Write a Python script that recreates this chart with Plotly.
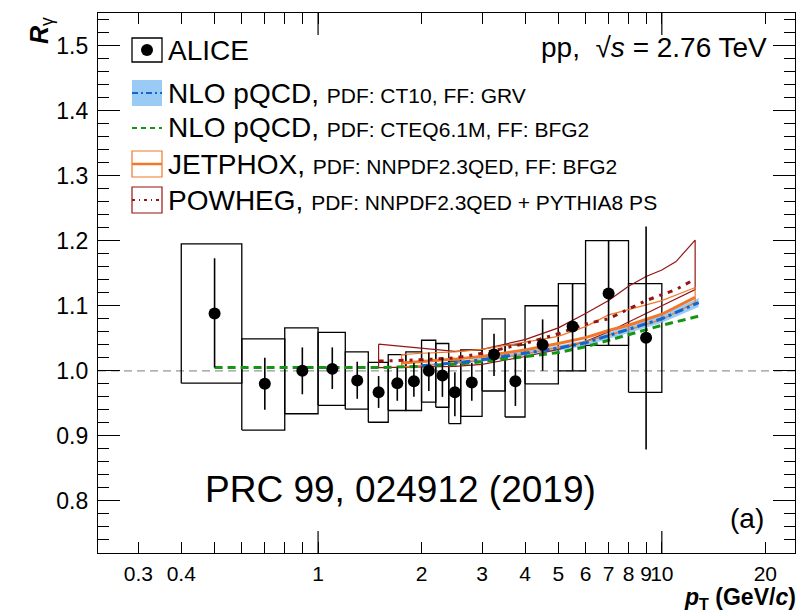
import numpy as np
import plotly.graph_objects as go

# ---------------- data ----------------
bin_lo = [0.4, 0.6, 0.8, 1.0, 1.2, 1.4, 1.6, 1.8, 2.0, 2.2, 2.4, 2.6, 3.0, 3.5, 4.0, 5.0, 6.0, 8.0]
bin_hi = [0.6, 0.8, 1.0, 1.2, 1.4, 1.6, 1.8, 2.0, 2.2, 2.4, 2.6, 3.0, 3.5, 4.0, 5.0, 6.0, 8.0, 10.0]
pt = [0.5, 0.7, 0.9, 1.1, 1.3, 1.5, 1.7, 1.9, 2.1, 2.3, 2.5, 2.8, 3.25, 3.75, 4.5, 5.5, 7.0, 9.0]
r_gamma = [1.088, 0.980, 1.000, 1.003, 0.985, 0.967, 0.981, 0.984, 1.000, 0.993, 0.967, 0.982,
           1.025, 0.984, 1.040, 1.068, 1.119, 1.051]
stat_hi = [1.173, 1.020, 1.036, 1.036, 1.014, 0.992, 1.005, 1.012, 1.028, 1.020, 0.998, 1.012,
           1.057, 1.025, 1.079, 1.134, 1.200, 1.222]
stat_lo = [1.005, 0.940, 0.964, 0.972, 0.957, 0.943, 0.954, 0.960, 0.969, 0.960, 0.930, 0.954,
           0.992, 0.946, 1.000, 1.000, 1.039, 0.879]
sys_hi = [1.195, 1.049, 1.066, 1.059, 1.029, 1.013, 1.025, 1.029, 1.047, 1.042, 1.015, 1.032,
          1.080, 1.040, 1.100, 1.134, 1.200, 1.134]
sys_lo = [0.981, 0.909, 0.934, 0.947, 0.941, 0.921, 0.939, 0.939, 0.952, 0.944, 0.919, 0.930,
          0.969, 0.929, 0.980, 1.000, 1.039, 0.967]

# NLO pQCD, CT10 / GRV
ct10_pt = [2.0, 2.5, 3.0, 4.0, 5.0, 6.0, 7.0, 8.0, 10.0, 12.8]
ct10_r = [1.008, 1.012, 1.017, 1.027, 1.035, 1.043, 1.054, 1.063, 1.080, 1.105]
ct10_err = [0.002, 0.002, 0.003, 0.003, 0.004, 0.004, 0.005, 0.005, 0.006, 0.007]

# NLO pQCD, CTEQ6.1M / BFG2
cteq_pt = [0.5, 1.0, 1.5, 2.0, 2.5, 3.0, 4.0, 5.0, 6.0, 7.0, 8.0, 10.0, 12.8]
cteq_r = [1.005, 1.005, 1.005, 1.007, 1.010, 1.014, 1.022, 1.028, 1.037, 1.047, 1.055, 1.070, 1.084]

# JETPHOX
jet_pt = [1.75, 2.0, 2.5, 3.0, 4.0, 5.0, 6.0, 7.0, 8.0, 10.0, 12.5]
jet_r = [1.012, 1.014, 1.018, 1.022, 1.032, 1.042, 1.051, 1.062, 1.070, 1.087, 1.113]
jet_hi = [1.025, 1.027, 1.029, 1.033, 1.044, 1.053, 1.068, 1.086, 1.094, 1.108, 1.128]
jet_lo = [1.006, 1.008, 1.012, 1.016, 1.026, 1.036, 1.045, 1.055, 1.063, 1.079, 1.105]

# POWHEG
pow_pt = [1.5, 2.0, 2.5, 3.0, 4.0, 5.0, 6.0, 7.0, 8.0, 9.0, 10.0, 11.0, 12.5]
pow_r = [1.015, 1.017, 1.020, 1.027, 1.042, 1.057, 1.072, 1.080, 1.095, 1.108, 1.117, 1.125, 1.141]
pow_hi = [1.041, 1.035, 1.030, 1.033, 1.048, 1.066, 1.088, 1.108, 1.130, 1.145, 1.155, 1.168, 1.201]
pow_lo = [1.005, 1.006, 1.007, 1.010, 1.022, 1.033, 1.045, 1.060, 1.075, 1.088, 1.100, 1.110, 1.125]

x_labeled = [0.3, 0.4, 1, 2, 3, 4, 5, 6, 7, 8, 9, 10, 20]
x_labels = ["0.3", "0.4", "1", "2", "3", "4", "5", "6", "7", "8", "9", "10", "20"]
x_unlabeled = [0.5, 0.6, 0.7, 0.8, 0.9]
x_major = [1, 10]

# ---------------- colours ----------------
C_BLUE = "rgb(20,100,205)"
C_BAND = "rgba(120,185,240,0.75)"
C_GREEN = "rgb(20,150,20)"
C_ORANGE = "rgb(240,120,40)"
C_RED = "rgb(150,20,20)"
FONT = "Liberation Sans, Arial, Helvetica, sans-serif"

fig = go.Figure()

# systematic boxes
bx, by = [], []
for lo, hi, ylo, yhi in zip(bin_lo, bin_hi, sys_lo, sys_hi):
    bx += [lo, hi, hi, lo, lo, None]
    by += [ylo, ylo, yhi, yhi, ylo, None]
fig.add_trace(go.Scatter(x=bx, y=by, mode="lines", line=dict(color="black", width=1.3),
                         hoverinfo="skip", showlegend=False))

# CT10 band
fig.add_trace(go.Scatter(
    x=ct10_pt + ct10_pt[::-1],
    y=list(np.array(ct10_r) + np.array(ct10_err)) + list((np.array(ct10_r) - np.array(ct10_err))[::-1]),
    fill="toself", fillcolor=C_BAND, line=dict(width=0), mode="lines",
    hoverinfo="skip", showlegend=False))

# POWHEG band outline
fig.add_trace(go.Scatter(x=pow_pt + pow_pt[::-1] + [pow_pt[0]],
                         y=pow_hi + pow_lo[::-1] + [pow_hi[0]],
                         mode="lines", line=dict(color=C_RED, width=1.2),
                         hoverinfo="skip", showlegend=False))
# JETPHOX band outline
fig.add_trace(go.Scatter(x=jet_pt + jet_pt[::-1] + [jet_pt[0]],
                         y=jet_hi + jet_lo[::-1] + [jet_hi[0]],
                         mode="lines", line=dict(color=C_ORANGE, width=1.2),
                         hoverinfo="skip", showlegend=False))
# JETPHOX central
fig.add_trace(go.Scatter(x=jet_pt, y=jet_r, mode="lines", line=dict(color=C_ORANGE, width=3),
                         hoverinfo="skip", showlegend=False))
# CTEQ6.1M
fig.add_trace(go.Scatter(x=cteq_pt, y=cteq_r, mode="lines",
                         line=dict(color=C_GREEN, width=3, dash="8px,5px"),
                         hoverinfo="skip", showlegend=False))
# CT10 central
fig.add_trace(go.Scatter(x=ct10_pt, y=ct10_r, mode="lines",
                         line=dict(color=C_BLUE, width=3, dash="9px,4px,3px,4px"),
                         hoverinfo="skip", showlegend=False))
# POWHEG central
fig.add_trace(go.Scatter(x=pow_pt, y=pow_r, mode="lines",
                         line=dict(color=C_RED, width=3, dash="5px,6px,3px,6px"),
                         hoverinfo="skip", showlegend=False))

# ALICE points
r = np.array(r_gamma)
fig.add_trace(go.Scatter(
    x=pt, y=r_gamma, mode="markers",
    marker=dict(color="black", size=12, symbol="circle"),
    error_y=dict(type="data", symmetric=False,
                 array=list(np.array(stat_hi) - r), arrayminus=list(r - np.array(stat_lo)),
                 color="black", thickness=1.6, width=0),
    hoverinfo="skip", showlegend=False))

# ---------------- layout ----------------
L, R_, T, B = 98, 12, 13, 60
W, H = 807, 613
PW, PH = W - L - R_, H - T - B


def px(x):
    return (x - L) / PW


def py(y):
    return (T + PH - y) / PH


xr = [np.log10(0.229), np.log10(24.4)]
fig.update_layout(
    width=W, height=H, margin=dict(l=L, r=R_, t=T, b=B, pad=0),
    paper_bgcolor="white", plot_bgcolor="white",
    font=dict(family=FONT, color="black", size=22),
    showlegend=False,
    xaxis=dict(type="log", range=xr, tickmode="array", tickvals=x_labeled, ticktext=x_labels,
               tickangle=0,
               ticks="inside", ticklen=11, tickwidth=1.2, tickcolor="black",
               minor=dict(tickmode="array", tickvals=x_unlabeled, ticks="inside", ticklen=11,
                          tickwidth=1.2, tickcolor="black"),
               showline=True, linecolor="black", linewidth=1.3, mirror="allticks",
               showgrid=False, zeroline=False, tickfont=dict(size=21), ticklabelstandoff=2),
    yaxis=dict(range=[0.72, 1.55], tick0=0, dtick=0.1, tickformat=".1f",
               ticks="inside", ticklen=22, tickwidth=1.2, tickcolor="black",
               minor=dict(dtick=0.02, ticklen=11, tickwidth=1.2, tickcolor="black", ticks="inside"),
               showline=True, linecolor="black", linewidth=1.3, mirror="allticks",
               showgrid=False, zeroline=False, tickfont=dict(size=23), ticklabelstandoff=4),
)

shapes = []
annotations = []
# reference line at 1
shapes.append(dict(type="line", xref="paper", yref="y", x0=0, x1=1, y0=1.0, y1=1.0,
                   line=dict(color="rgb(150,150,150)", width=1.3, dash="8px,5px"), layer="below"))
# long major x ticks at 1 and 10 (bottom and top)
tl = 22 / PH
for xv in x_major:
    shapes.append(dict(type="line", xref="x", yref="paper", x0=xv, x1=xv, y0=0, y1=tl,
                       line=dict(color="black", width=1.2)))
    shapes.append(dict(type="line", xref="x", yref="paper", x0=xv, x1=xv, y0=1 - tl, y1=1,
                       line=dict(color="black", width=1.2)))

# ---- legend (drawn manually) ----
lx0, lx1 = 132, 162
rows = [50, 93, 128, 164, 200]
hh = 12
# ALICE
shapes.append(dict(type="rect", xref="paper", yref="paper", x0=px(lx0), x1=px(lx1),
                   y0=py(rows[0] + hh), y1=py(rows[0] - hh), line=dict(color="black", width=1.3)))
shapes.append(dict(type="circle", xref="paper", yref="paper", xsizemode="pixel", ysizemode="pixel",
                   xanchor=px((lx0 + lx1) / 2), yanchor=py(rows[0]), x0=-6, x1=6, y0=-6, y1=6,
                   fillcolor="black", line=dict(color="black", width=0)))
# CT10
shapes.append(dict(type="rect", xref="paper", yref="paper", x0=px(lx0), x1=px(lx1),
                   y0=py(rows[1] + 13), y1=py(rows[1] - 13), fillcolor=C_BAND, line=dict(width=0)))
shapes.append(dict(type="line", xref="paper", yref="paper", x0=px(lx0), x1=px(lx1),
                   y0=py(rows[1]), y1=py(rows[1]), line=dict(color=C_BLUE, width=2, dash="6px,3px,2px,3px")))
# CTEQ
shapes.append(dict(type="line", xref="paper", yref="paper", x0=px(lx0), x1=px(lx1),
                   y0=py(rows[2]), y1=py(rows[2]), line=dict(color=C_GREEN, width=2, dash="5px,4px")))
# JETPHOX
shapes.append(dict(type="rect", xref="paper", yref="paper", x0=px(lx0), x1=px(lx1),
                   y0=py(rows[3] + 13), y1=py(rows[3] - 13), line=dict(color=C_ORANGE, width=1.2)))
shapes.append(dict(type="line", xref="paper", yref="paper", x0=px(lx0), x1=px(lx1),
                   y0=py(rows[3]), y1=py(rows[3]), line=dict(color=C_ORANGE, width=2.5)))
# POWHEG
shapes.append(dict(type="rect", xref="paper", yref="paper", x0=px(lx0), x1=px(lx1),
                   y0=py(rows[4] + 13), y1=py(rows[4] - 13), line=dict(color=C_RED, width=1.2)))
shapes.append(dict(type="line", xref="paper", yref="paper", x0=px(lx0), x1=px(lx1),
                   y0=py(rows[4]), y1=py(rows[4]), line=dict(color=C_RED, width=2, dash="3px,4px,1px,4px")))

big, small = 28, 21
leg_text = [
    "ALICE",
    f"NLO pQCD, <span style='font-size:{small}px'>PDF: CT10, FF: GRV</span>",
    f"NLO pQCD, <span style='font-size:{small}px'>PDF: CTEQ6.1M, FF: BFG2</span>",
    f"JETPHOX, <span style='font-size:{small}px'>PDF: NNPDF2.3QED, FF: BFG2</span>",
    f"POWHEG, <span style='font-size:{small}px'>PDF: NNPDF2.3QED + PYTHIA8 PS</span>",
]
for yrow, txt in zip(rows, leg_text):
    annotations.append(dict(xref="paper", yref="paper", x=px(166), y=py(yrow), xanchor="left",
                            yanchor="middle", text=txt, showarrow=False,
                            font=dict(size=big, family=FONT)))

annotations.append(dict(xref="paper", yref="paper", x=px(769), y=py(47), xanchor="right",
                        yanchor="middle", text="pp,  √<i>s</i> = 2.76 TeV", showarrow=False,
                        font=dict(size=28, family=FONT)))
annotations.append(dict(xref="paper", yref="paper", x=px(400), y=py(489), xanchor="center",
                        yanchor="middle", text="PRC 99, 024912 (2019)", showarrow=False,
                        font=dict(size=37, family=FONT)))
annotations.append(dict(xref="paper", yref="paper", x=px(766), y=py(518), xanchor="right",
                        yanchor="middle", text="(a)", showarrow=False,
                        font=dict(size=28, family=FONT)))
# axis titles
annotations.append(dict(xref="paper", yref="paper", x=px(41), y=py(31), xanchor="center",
                        yanchor="middle", text="<b><i>R</i></b><sub>γ</sub>", textangle=-90,
                        showarrow=False, font=dict(size=25, family=FONT)))
annotations.append(dict(xref="paper", yref="paper", x=px(798), y=py(598), xanchor="right",
                        yanchor="middle", text="<b><i>p</i><sub>T</sub> (GeV/<i>c</i>)</b>",
                        showarrow=False, font=dict(size=23, family=FONT)))

fig.update_layout(shapes=shapes, annotations=annotations)
fig.write_html("out.html")
